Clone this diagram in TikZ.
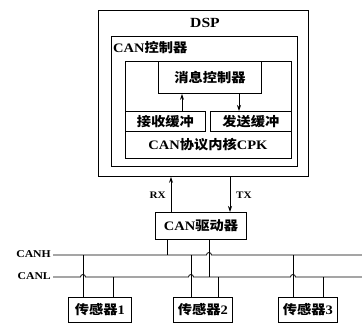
\documentclass[tikz,border=0pt]{standalone}
\usepackage{fontspec}
\setmainfont{Liberation Serif}[FakeStretch=1.12]
\newfontfamily\cjk{Noto Sans CJK SC}[FakeStretch=1.1]
\newcommand{\zh}[1]{{\cjk #1}}
\usetikzlibrary{arrows.meta}
\begin{document}
\begin{tikzpicture}[x=1bp,y=-1bp,
  box/.style={draw,line width=0.9bp,inner sep=0pt,anchor=north west},
  lbl/.style={inner sep=0pt,font=\fontsize{13}{15}\selectfont\bfseries},
  wire/.style={line width=0.8bp},
  arr/.style={line width=0.8bp,-{Stealth[length=6bp,width=4bp]}}]
\useasboundingbox (0,0) rectangle (362,326);
% boxes
\node[box,minimum width=210bp,minimum height=166bp] (dsp) at (98,10) {};
\node[box,minimum width=186bp,minimum height=130bp] (canc) at (111,36) {};
\node[box,minimum width=166bp,minimum height=97bp] (core) at (125,61) {};
\node[box,minimum width=103bp,minimum height=32bp,lbl] (msg) at (158,61) {\zh{消息控制器}};
\node[box,minimum width=80bp,minimum height=20bp,lbl] (rxb) at (125,111) {\zh{接收缓冲}};
\node[box,minimum width=81bp,minimum height=20bp,lbl] (txb) at (210,111) {\zh{发送缓冲}};
\node[box,minimum width=91bp,minimum height=27bp,lbl] (drv) at (155,212) {CAN\zh{驱动器}};
\node[box,minimum width=63bp,minimum height=25bp,lbl] (s1) at (68,297) {\zh{传感器}1};
\node[box,minimum width=59bp,minimum height=25bp,lbl] (s2) at (173,297) {\zh{传感器}2};
\node[box,minimum width=59bp,minimum height=25bp,lbl] (s3) at (278,297) {\zh{传感器}3};
% labels
\node[lbl,font=\fontsize{14}{16}\selectfont\bfseries] (dspl) at (205,23) {DSP};
\node[lbl,anchor=west] (cancl) at (113,48) {CAN\zh{控制器}};
\node[lbl] (cpkl) at (208,145) {CAN\zh{协议内核}CPK};
% internal arrows
\coordinate (ax1) at (182,0);
\coordinate (ax2) at (239,0);
\draw[arr] (rxb.north -| ax1) -- (msg.south -| ax1);
\draw[arr] (msg.south -| ax2) -- (txb.north -| ax2);
% RX / TX
\coordinate (rxx) at (171,0);
\coordinate (txx) at (230,0);
\draw[arr] (drv.north -| rxx) -- (dsp.south -| rxx);
\draw[arr] (dsp.south -| txx) -- (drv.north -| txx);
\node[lbl,font=\fontsize{10}{12}\selectfont\bfseries,anchor=east] (rxl) at (166,195) {RX};
\node[lbl,font=\fontsize{10}{12}\selectfont\bfseries,anchor=west] (txl) at (236,195) {TX};
% bus
\coordinate (hL) at (53,255);
\coordinate (hR) at (362,255);
\coordinate (lL) at (53,277);
\coordinate (lR) at (362,277);
\node[lbl,font=\fontsize{10.5}{12}\selectfont\bfseries,anchor=east] (canh) at (51,254) {CANH};
\node[lbl,font=\fontsize{10.5}{12}\selectfont\bfseries,anchor=east] (canl) at (51,276) {CANL};
\def\hr{2.5}
\draw[wire] (hL) -- (209-\hr,255) arc (180:360:\hr) -- (hR);
\draw[wire] (lL) -- (83-\hr,277) arc (180:360:\hr) -- (191-\hr,277) arc (180:360:\hr)
  -- (293-\hr,277) arc (180:360:\hr) -- (lR);
% driver to bus
\coordinate (d1) at (167,0);
\coordinate (d2) at (209,0);
\draw[wire] (drv.south -| d1) -- (hL -| d1);
\draw[wire] (drv.south -| d2) -- (lL -| d2);
% sensors to bus
\foreach \xa/\xb/\s in {83/113/s1,191/218/s2,293/323/s3}{
  \draw[wire] (\xa,255) -- (\s.north -| {(\xa,0)});
  \draw[wire] (\xb,277) -- (\s.north -| {(\xb,0)});
}
\end{tikzpicture}
\end{document}
